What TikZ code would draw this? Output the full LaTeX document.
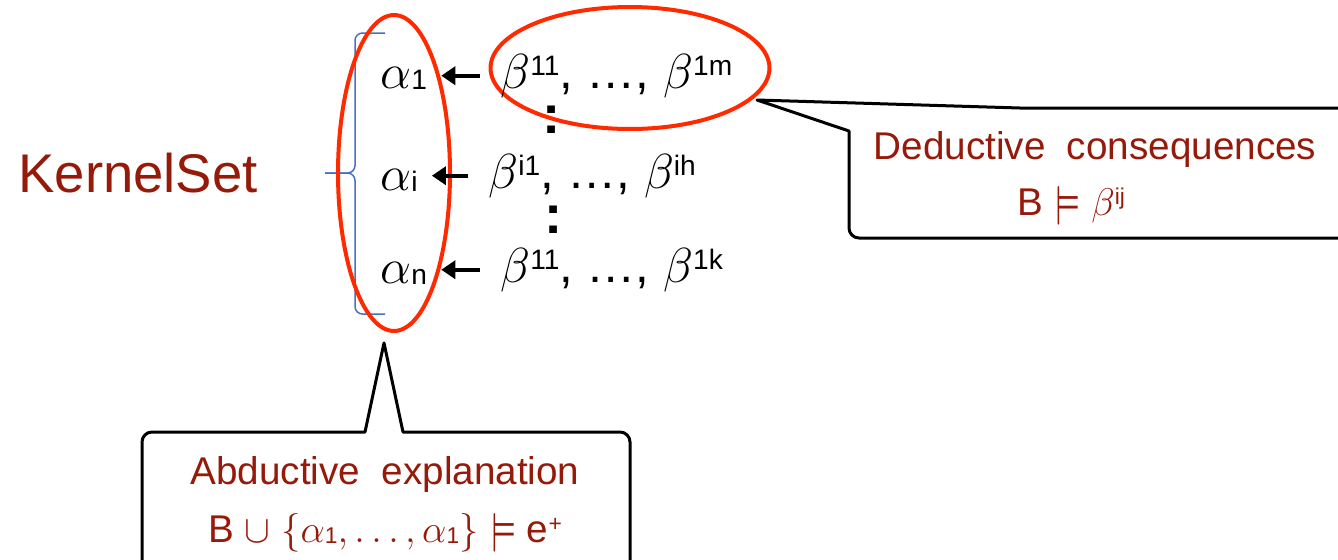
\RequirePackage{fix-cm}
\documentclass[tikz,border=0pt]{standalone}
\usepackage{amsmath}
\usepackage{fontspec}
\setmainfont{Liberation Sans}
\usetikzlibrary{arrows.meta,calc,shapes.geometric,positioning}
\definecolor{ksRed}{HTML}{961A0A}
\definecolor{ksHilite}{HTML}{FF2A00}
\definecolor{ksBrace}{HTML}{4472C4}
\definecolor{ksInk}{HTML}{000000}
% slide-like indices: small sans figures, barely shifted
\newcommand\kssup[2][16]{\raisebox{.26em}{\fontsize{#1}{#1}\selectfont #2}}
\newcommand\kssub[2][16]{\raisebox{-.03em}{\fontsize{#1}{#1}\selectfont #2}}
\tikzset{
  ks title/.style={font=\fontsize{31}{37}\selectfont, text=ksRed, inner sep=0},
  ks term/.style={font=\fontsize{28}{34}\selectfont, text=ksInk, inner sep=0},
  ks dots/.style={font=\fontsize{31}{34}\selectfont\bfseries, text=ksInk, inner sep=0},
  ks label/.style={font=\fontsize{22}{27}\selectfont, text=ksRed, inner sep=0},
  ks hilite/.style={ellipse, draw=ksHilite, line width=.08cm, inner sep=0},
  ks brace/.style={draw=ksBrace, line width=.03cm, rounded corners=.15cm},
  ks pointer/.style={
    draw=ksInk,
    line width=.08cm,
    shorten <=.4cm,
    shorten >=.28cm,
    -{Triangle[length=.28cm,width=.36cm]}
  },
  ks callout/.style={draw=ksInk, line width=.06cm, line join=round}
}
\begin{document}
\begin{tikzpicture}[x=.02cm,y=-.02cm]
  \useasboundingbox (0,0) rectangle (1338,559);
  \clip (0,0) rectangle (1338,559);

  \node[ks title, anchor=base] (kernel) at (138,192) {KernelSet};

  % the brace round the kernel set
  \draw[ks brace] (385,33) -- (355,33) -- (355,173) -- (325,173);
  \draw[ks brace] (385,314) -- (355,314) -- (355,173) -- (325,173);

  \node[ks hilite, minimum width=2.24cm, minimum height=6.32cm] (alphaset) at (394,173) {};
  \node[ks hilite, minimum width=5.58cm, minimum height=2.44cm] (betaset) at (630,68) {};

  \node[ks term, anchor=base west] (a1) at (380,88) {$\alpha$\kssub{1}};
  \node[ks term, anchor=base west] (ai) at (380,190) {$\alpha$\kssub{i}};
  \node[ks term, anchor=base west] (an) at (380,283) {$\alpha$\kssub{n}};
  \node[ks term, anchor=base west] (b1) at (500,88) {$\beta$\kssup{11}, \ldots, $\beta$\kssup{1m}};
  \node[ks term, anchor=base west] (bi) at (488,188) {$\beta$\kssup{i1}, \ldots, $\beta$\kssup{ih}};
  \node[ks term, anchor=base west] (bn) at (500,282) {$\beta$\kssup{11}, \ldots, $\beta$\kssup{1k}};
  \node[ks dots, anchor=base] (dots1) at (552,133) {:};
  \node[ks dots, anchor=base] (dots2) at (554,233) {:};

  \draw[ks pointer] (b1.west) -- (b1.west -| a1.east);
  \draw[ks pointer] (bi.west) -- (bi.west -| ai.east);
  \draw[ks pointer] (bn.west) -- (bn.west -| an.east);

  % callouts
  \coordinate (dedtip) at (757,100);
  \coordinate (abdtip) at ($(alphaset.south)+(-10,10)$);
  \draw[ks callout] (dedtip) -- (849,131) -- (849,180)
    {[rounded corners=.2cm] -- (849,238) -- (1360,238)} -- (1360,108) -- (1020,108) -- cycle;
  \draw[ks callout] (abdtip) -- (403,432)
    {[rounded corners=.2cm] -- (630,432) -- (630,580) -- (142,580) -- (142,432)} -- (365,432) -- cycle;

  \node[ks label, anchor=base] (dedtext) at (1095,159) {Deductive\ \ consequences};
  \node[ks label, anchor=base] (dedform) at (1071,215) {B $\models$ $\beta$\kssup[13]{ij}};
  \node[ks label, anchor=base] (abdtext) at (385,484) {Abductive\ \ explanation};
  \node[ks label, anchor=base] (abdform) at (385,542)
    {B $\cup$ $\{\alpha$\kssub[13]{1}$,\ldots,\alpha$\kssub[13]{1}$\}$ $\models$ e\kssup[13]{+}};
\end{tikzpicture}
\end{document}
